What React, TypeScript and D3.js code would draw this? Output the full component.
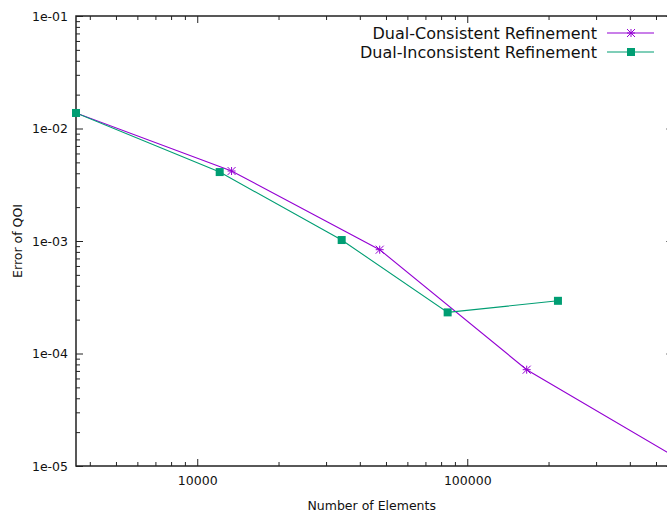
import React, { useRef, useEffect } from 'react';
import * as d3 from 'd3';

// refinement data
const consistentElements = [3556, 13400, 47400, 166000, 580000];
const consistentError = [0.01374, 0.00419, 0.000837, 0.0000718, 0.0000123];
const inconsistentElements = [3556, 12110, 34270, 84600, 216700];
const inconsistentError = [0.01374, 0.0041, 0.00102, 0.000232, 0.000294];

const seriesNames = ['Dual-Consistent Refinement', 'Dual-Inconsistent Refinement'];
const xMajorTicks = [10000, 100000];
const xTickLabels = ['10000', '100000'];
const yMajorTicks = [1e-5, 1e-4, 1e-3, 1e-2, 1e-1];
const yTickLabels = ['1e-05', '1e-04', '1e-03', '1e-02', '1e-01'];

const App = () => {
  const svgRef = useRef<SVGSVGElement>(null);

  useEffect(() => {
    const W = 667, H = 517;
    const left = 76, top = 16, right = 673.4, bottom = 466;
    const font = 'DejaVu Sans, sans-serif';

    const svg = d3.select(svgRef.current).attr('width', W).attr('height', H);
    svg.selectAll('*').remove();

    const x = d3.scaleLog().domain([3556, 580000]).range([left, right]);
    const y = d3.scaleLog().domain([1e-5, 1e-1]).range([bottom, top]);

    // minor ticks 2..9 per decade inside the range
    const xMinor: number[] = [];
    [1000, 10000, 100000].forEach(d => d3.range(2, 10).forEach(k => {
      const v = d * k;
      if (v > 3556 && v < 580000) xMinor.push(v);
    }));
    const yMinor: number[] = [];
    [1e-5, 1e-4, 1e-3, 1e-2].forEach(d => d3.range(2, 10).forEach(k => yMinor.push(d * k)));

    const styleAxis = (g: any) => {
      g.select('.domain').remove();
      g.selectAll('line').attr('stroke', '#222').attr('stroke-width', 1);
      g.selectAll('text').attr('font-family', font).attr('font-size', 12.5).attr('fill', '#111');
    };

    // bottom axis
    svg.append('g').attr('transform', `translate(0,${bottom})`)
      .call(d3.axisBottom(x).tickValues(xMajorTicks).tickSize(-7).tickPadding(10)
        .tickFormat((d, i) => xTickLabels[i]))
      .call(styleAxis);
    svg.append('g').attr('transform', `translate(0,${bottom})`)
      .call(d3.axisBottom(x).tickValues(xMinor).tickSize(-4).tickFormat(() => ''))
      .call(styleAxis);
    // top mirror
    svg.append('g').attr('transform', `translate(0,${top})`)
      .call(d3.axisTop(x).tickValues(xMajorTicks).tickSize(-7).tickFormat(() => ''))
      .call(styleAxis);
    svg.append('g').attr('transform', `translate(0,${top})`)
      .call(d3.axisTop(x).tickValues(xMinor).tickSize(-4).tickFormat(() => ''))
      .call(styleAxis);

    // left axis
    svg.append('g').attr('transform', `translate(${left},0)`)
      .call(d3.axisLeft(y).tickValues(yMajorTicks).tickSize(-7).tickPadding(8)
        .tickFormat((d, i) => yTickLabels[i]))
      .call(styleAxis);
    svg.append('g').attr('transform', `translate(${left},0)`)
      .call(d3.axisLeft(y).tickValues(yMinor).tickSize(-4).tickFormat(() => ''))
      .call(styleAxis);
    // right mirror
    svg.append('g').attr('transform', `translate(${right},0)`)
      .call(d3.axisRight(y).tickValues(yMajorTicks).tickSize(-7).tickFormat(() => ''))
      .call(styleAxis);
    svg.append('g').attr('transform', `translate(${right},0)`)
      .call(d3.axisRight(y).tickValues(yMinor).tickSize(-4).tickFormat(() => ''))
      .call(styleAxis);

    // border
    svg.append('rect')
      .attr('x', left).attr('y', top)
      .attr('width', right - left).attr('height', bottom - top)
      .attr('fill', 'none').attr('stroke', '#222').attr('stroke-width', 1.5);

    // axis titles
    svg.append('text')
      .attr('x', (left + right) / 2 - 3).attr('y', 510)
      .attr('text-anchor', 'middle')
      .attr('font-family', font).attr('font-size', 12.5).attr('fill', '#111')
      .text('Number of Elements');
    svg.append('text')
      .attr('transform', `translate(22,${(top + bottom) / 2}) rotate(-90)`)
      .attr('text-anchor', 'middle')
      .attr('font-family', font).attr('font-size', 12.5).attr('fill', '#111')
      .text('Error of QOI');

    svg.append('clipPath').attr('id', 'plot-clip')
      .append('rect').attr('x', left).attr('y', top)
      .attr('width', right - left).attr('height', bottom - top);

    const line = d3.line<[number, number]>()
      .x(d => x(d[0]))
      .y(d => y(d[1]));

    const consistent: [number, number][] = consistentElements.map((e, i) => [e, consistentError[i]]);
    const inconsistent: [number, number][] = inconsistentElements.map((e, i) => [e, inconsistentError[i]]);

    const purple = '#9400d3';
    const green = '#009e73';

    const plot = svg.append('g').attr('clip-path', 'url(#plot-clip)');

    const star = (g: any, cx: number, cy: number, color: string) => {
      const r = 4;
      g.append('path')
        .attr('d', `M${cx - r},${cy}H${cx + r}M${cx},${cy - r}V${cy + r}M${cx - r},${cy - r}L${cx + r},${cy + r}M${cx - r},${cy + r}L${cx + r},${cy - r}`)
        .attr('stroke', color).attr('stroke-width', 1).attr('fill', 'none');
    };
    const square = (g: any, cx: number, cy: number, color: string) => {
      g.append('rect')
        .attr('x', cx - 4).attr('y', cy - 4).attr('width', 8).attr('height', 8)
        .attr('fill', color);
    };

    plot.append('path').datum(consistent)
      .attr('fill', 'none').attr('stroke', purple).attr('stroke-width', 1.1)
      .attr('d', line);
    consistent.forEach(d => star(plot, x(d[0]), y(d[1]), purple));

    plot.append('path').datum(inconsistent)
      .attr('fill', 'none').attr('stroke', green).attr('stroke-width', 1.1)
      .attr('d', line);
    inconsistent.forEach(d => square(svg, x(d[0]), y(d[1]), green));

    // legend
    const legendRows = [
      { name: seriesNames[0], color: purple, marker: star, yy: 33 },
      { name: seriesNames[1], color: green, marker: square, yy: 52 },
    ];
    legendRows.forEach(r => {
      svg.append('text')
        .attr('x', 597).attr('y', r.yy + 5.5)
        .attr('text-anchor', 'end')
        .attr('font-family', font).attr('font-size', 16).attr('fill', '#111')
        .text(r.name);
      svg.append('line')
        .attr('x1', 607).attr('x2', 654).attr('y1', r.yy).attr('y2', r.yy)
        .attr('stroke', r.color).attr('stroke-width', 1.1);
      r.marker(svg, 631, r.yy, r.color);
    });
  }, []);

  return (
    <svg ref={svgRef} style={{ position: 'absolute', left: 0, top: 0, background: '#fff' }}></svg>
  );
};

export default App;
